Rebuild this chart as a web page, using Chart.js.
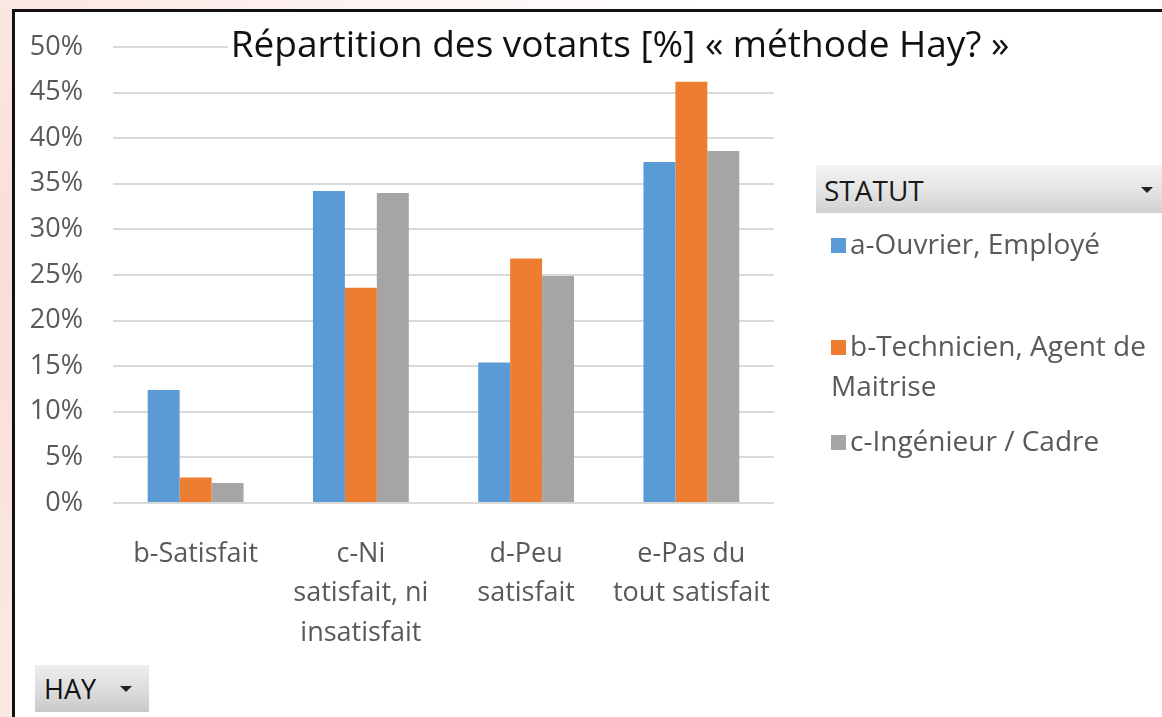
<!DOCTYPE html>
<html>
<head>
  <meta charset="UTF-8">
  <title>Répartition des votants</title>
  <script src="https://cdn.jsdelivr.net/npm/chart.js"></script>
  <style>
    body {
      margin: 0;
      width: 1162px;
      height: 717px;
      overflow: hidden;
      background: #fff;
      font-family: "Open Sans", sans-serif;
      position: relative;
    }
    #leftStrip {
      position: absolute; left: 0; top: 0; width: 12px; height: 717px;
      background: linear-gradient(to bottom, #fbe6e3, #f9ddd9 40%, #fbe9e6);
    }
    #topStrip {
      position: absolute; left: 0; top: 0; width: 1162px; height: 9px;
      background: linear-gradient(to right, #fbe6e3, #fff 60%);
    }
    #frame {
      position: absolute; left: 12px; top: 9px; width: 1162px; height: 717px;
      border-left: 3px solid #111;
      border-top: 3px solid #111;
    }
    canvas { position: absolute; left: 0; top: 0; }
    #title {
      position: absolute; left: 620px; top: 20px;
      transform: translateX(-50%);
      background: #fff;
      color: #111;
      font-size: 37px;
      white-space: nowrap;
      padding: 0 3px;
      line-height: 46px;
    }
    #legendHead {
      position: absolute; left: 816px; top: 165px; width: 346px; height: 48px;
      background: linear-gradient(to bottom, #f4f4f4, #dedede 70%, #cfcfcf);
      color: #1a1a1a; font-size: 28px; line-height: 50px;
    }
    #legendHead span { margin-left: 8px; }
    .arrow {
      position: absolute; width: 0; height: 0;
      border-left: 6px solid transparent;
      border-right: 6px solid transparent;
      border-top: 6px solid #222;
    }
    #legend { position: absolute; left: 831px; top: 0; }
    .item { position: absolute; left: 0; width: 340px; color: #595959; font-size: 28px; line-height: 40px; white-space: nowrap; }
    .item i { display: inline-block; width: 15px; height: 15px; margin-right: 4px; vertical-align: 1px; }
    #hay {
      position: absolute; left: 35px; top: 665px; width: 114px; height: 47px;
      background: linear-gradient(to bottom, #eeeeee, #d6d6d6 70%, #c9c9c9);
      color: #111; font-size: 27px; line-height: 47px;
    }
    #hay span { margin-left: 9px; }
  </style>
</head>
<body>
  <div id="leftStrip"></div>
  <div id="topStrip"></div>
  <div id="frame"></div>
  <canvas id="chart" width="1162" height="717"></canvas>
  <div id="title">Répartition des votants [%] « méthode Hay? »</div>
  <div id="legendHead"><span>STATUT</span><div class="arrow" style="left:325px;top:22px"></div></div>
  <div id="legend"></div>
  <div id="hay"><span>HAY</span><div class="arrow" style="left:85px;top:21px"></div></div>

  <script>
    // categories (multi-line labels like in the Excel chart)
    const categories = [
      ["b-Satisfait"],
      ["c-Ni", "satisfait, ni", "insatisfait"],
      ["d-Peu", "satisfait"],
      ["e-Pas du", "tout satisfait"]
    ];

    // values in %
    const ouvrier = [12.4, 34.2, 15.4, 37.4];
    const technicien = [2.8, 23.6, 26.8, 46.2];
    const ingenieur = [2.2, 34.0, 24.9, 38.6];

    const seriesNames = ["a-Ouvrier, Employé", "b-Technicien, Agent de Maitrise", "c-Ingénieur / Cadre"];
    const seriesColors = ["#5b9bd5", "#ed7d31", "#a5a5a5"];

    const yTicks = [0, 5, 10, 15, 20, 25, 30, 35, 40, 45, 50];

    const labelFont = { family: "'Open Sans', sans-serif", size: 27 };

    const chart = new Chart(document.getElementById("chart").getContext("2d"), {
      type: "bar",
      data: {
        labels: categories,
        datasets: [ouvrier, technicien, ingenieur].map((d, i) => ({
          label: seriesNames[i],
          data: d,
          backgroundColor: seriesColors[i],
          borderWidth: 0,
          categoryPercentage: 0.58,
          barPercentage: 1.0
        }))
      },
      options: {
        responsive: false,
        animation: false,
        devicePixelRatio: 1,
        layout: { padding: { left: 15, top: 47, right: 388, bottom: 0 } },
        plugins: {
          legend: { display: false },
          tooltip: { enabled: false }
        },
        scales: {
          x: {
            grid: { display: false },
            border: { display: false },
            ticks: {
              color: "#595959",
              font: { ...labelFont, lineHeight: 1.45 },
              padding: 24,
              maxRotation: 0,
              autoSkip: false
            },
            afterFit: (scale) => { scale.height = 214; }
          },
          y: {
            min: 0,
            max: 50,
            afterBuildTicks: (scale) => { scale.ticks = yTicks.map(v => ({ value: v })); },
            grid: { color: "#d9d9d9", lineWidth: 2, drawTicks: false },
            border: { display: false },
            ticks: {
              color: "#595959",
              font: labelFont,
              padding: 30,
              callback: (v) => v + "%"
            },
            afterFit: (scale) => { scale.width = 98; }
          }
        }
      }
    });

    // legend on the right, built from the datasets
    const legendTops = [223, 325, 420];
    const legendBox = document.getElementById("legend");
    chart.data.datasets.forEach((ds, i) => {
      const div = document.createElement("div");
      div.className = "item";
      div.style.top = legendTops[i] + "px";
      const parts = ds.label === "b-Technicien, Agent de Maitrise"
        ? "b-Technicien, Agent de<br>Maitrise" : ds.label;
      div.innerHTML = `<i style="background:${ds.backgroundColor}"></i>${parts}`;
      legendBox.appendChild(div);
    });
  </script>
</body>
</html>
